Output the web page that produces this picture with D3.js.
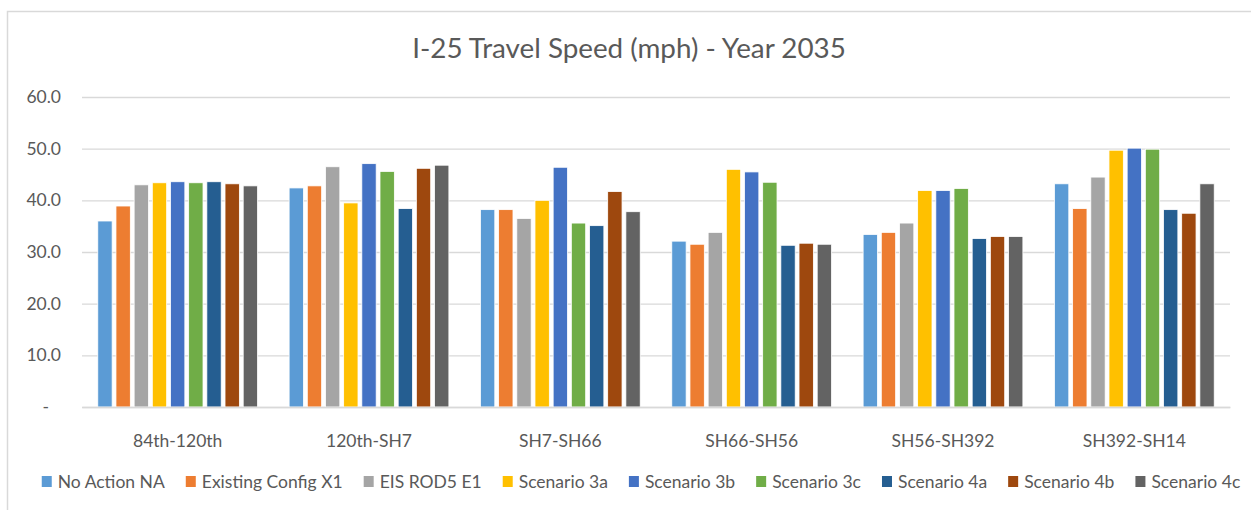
<!DOCTYPE html>
<html>
<head>
<meta charset="utf-8">
<script src="https://cdn.jsdelivr.net/npm/d3@7"></script>
<style>
  body { margin: 0; background: #fff; }
  svg { display: block; font-family: Lato, "Open Sans", sans-serif; }
</style>
</head>
<body>
<svg id="chart"></svg>
<script>
// Chart data
const segments = ['84th-120th', '120th-SH7', 'SH7-SH66', 'SH66-SH56', 'SH56-SH392', 'SH392-SH14'];
const scenarios = ['No Action NA', 'Existing Config X1', 'EIS ROD5 E1', 'Scenario 3a', 'Scenario 3b',
    'Scenario 3c', 'Scenario 4a', 'Scenario 4b', 'Scenario 4c'];
const colors = ['#5B9BD5', '#ED7D31', '#A5A5A5', '#FFC000', '#4472C4', '#70AD47', '#255E91', '#9E480E', '#636363'];

// speeds per scenario, one value per segment
const noAction   = [36.0, 42.4, 38.2, 32.1, 33.4, 43.2];
const existingX1 = [38.9, 42.8, 38.2, 31.5, 33.8, 38.4];
const eisE1      = [43.0, 46.5, 36.5, 33.8, 35.6, 44.5];
const scen3a     = [43.4, 39.5, 40.0, 46.0, 41.9, 49.7];
const scen3b     = [43.6, 47.1, 46.4, 45.5, 41.9, 50.1];
const scen3c     = [43.4, 45.6, 35.6, 43.5, 42.3, 49.9];
const scen4a     = [43.6, 38.4, 35.1, 31.3, 32.6, 38.2];
const scen4b     = [43.2, 46.2, 41.7, 31.7, 33.0, 37.5];
const scen4c     = [42.8, 46.8, 37.8, 31.5, 33.0, 43.2];

const seriesValues = [noAction, existingX1, eisE1, scen3a, scen3b, scen3c, scen4a, scen4b, scen4c];
const yTicks = [0, 10, 20, 30, 40, 50, 60];

const W = 1251, H = 510;
const plot = { left: 82, right: 1230, top: 97, bottom: 407 };
const textColor = '#595959';
const gridColor = '#d9d9d9';

const svg = d3.select('#chart')
    .attr('width', W)
    .attr('height', H);

// chart area border
svg.append('rect')
    .attr('x', 7.5)
    .attr('y', 11.5)
    .attr('width', 1300)
    .attr('height', 600)
    .attr('fill', '#fff')
    .attr('stroke', gridColor)
    .attr('stroke-width', 1.5);

// Title
svg.append('text')
    .attr('x', 629)
    .attr('y', 58)
    .attr('text-anchor', 'middle')
    .attr('fill', textColor)
    .style('font-size', '27.8px')
    .text('I-25 Travel Speed (mph) - Year 2035');

// Scales
const x0 = d3.scaleBand()
    .domain(segments)
    .range([plot.left, plot.right])
    .paddingInner(0.145)
    .paddingOuter(0.0725);

const x1 = d3.scaleBand()
    .domain(d3.range(scenarios.length))
    .range([0, x0.bandwidth()])
    .paddingInner(0.21)
    .paddingOuter(0.105);

const y = d3.scaleLinear()
    .domain([0, 60])
    .range([plot.bottom, plot.top]);

// Gridlines + y labels
const yAxis = svg.append('g')
    .attr('class', 'axis-y')
    .attr('transform', `translate(${plot.left},0)`)
    .call(d3.axisLeft(y)
        .tickValues(yTicks)
        .tickSize(-(plot.right - plot.left))
        .tickPadding(21)
        .tickFormat(d => d === 0 ? '-' : d3.format('.1f')(d)));

yAxis.select('.domain').remove();
yAxis.selectAll('.tick line')
    .attr('stroke', gridColor)
    .attr('stroke-width', 1.3);
yAxis.selectAll('.tick text')
    .attr('fill', textColor)
    .style('font-size', '17.5px')
    .style('font-family', 'Lato, sans-serif');
yAxis.selectAll('.tick text')
    .filter(d => d === 0)
    .attr('x', -33);

// Bars
const groups = svg.selectAll('.group')
    .data(segments)
    .enter()
    .append('g')
    .attr('class', 'group')
    .attr('transform', d => `translate(${x0(d)},0)`);

groups.selectAll('.bar')
    .data((seg, gi) => seriesValues.map((vals, si) => ({ si, v: vals[gi] })))
    .enter()
    .append('rect')
    .attr('class', 'bar')
    .attr('x', d => x1(d.si))
    .attr('y', d => y(d.v))
    .attr('width', x1.bandwidth())
    .attr('height', d => y(0) - y(d.v))
    .attr('fill', d => colors[d.si])
    .attr('stroke', '#fff')
    .attr('stroke-width', 0.8);

// x axis line + labels
const xAxis = svg.append('g')
    .attr('class', 'axis-x')
    .attr('transform', `translate(0,${plot.bottom})`)
    .call(d3.axisBottom(x0).tickSize(0).tickPadding(28));

xAxis.select('.domain')
    .attr('stroke', gridColor)
    .attr('stroke-width', 1.5);
xAxis.selectAll('.tick text')
    .attr('fill', textColor)
    .style('font-size', '17.5px')
    .style('font-family', 'Lato, sans-serif');

// Legend
const legend = svg.append('g').attr('class', 'legend');
const items = legend.selectAll('.item')
    .data(scenarios)
    .enter()
    .append('g')
    .attr('class', 'item');

items.append('rect')
    .attr('width', 10)
    .attr('height', 11)
    .attr('y', 476)
    .attr('fill', (d, i) => colors[i]);

items.append('text')
    .attr('x', 16)
    .attr('y', 488)
    .attr('fill', textColor)
    .style('font-size', '17.5px')
    .text(d => d);

// lay out legend items left to right, centred
let offsets = [];
let cursor = 0;
items.each(function () {
    const w = this.querySelector('text').getComputedTextLength();
    offsets.push(cursor);
    cursor += 16 + w + 21;
});
const total = cursor - 21;
const startX = 641 - total / 2;
items.attr('transform', (d, i) => `translate(${startX + offsets[i]},0)`);
</script>
</body>
</html>
